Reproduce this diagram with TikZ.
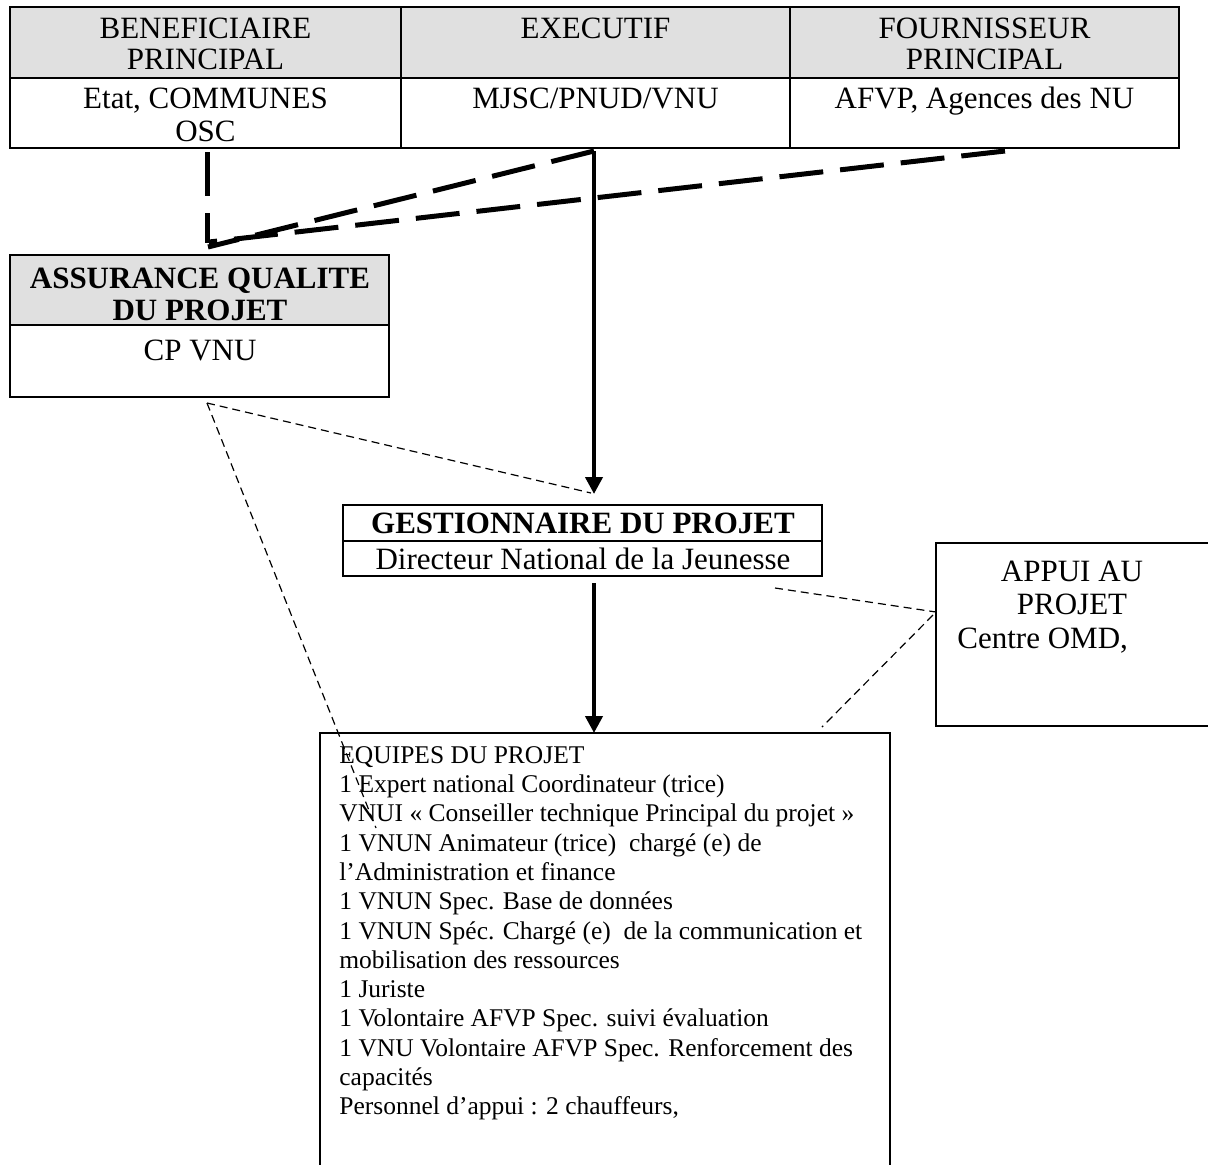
\documentclass[tikz,border=0pt]{standalone}
\usepackage{fontspec}
\setmainfont{Liberation Serif}
\usetikzlibrary{arrows.meta,fit}
\definecolor{hdr}{HTML}{E0E0E0}
\begin{document}
\begin{tikzpicture}[x=0.5pt,y=-0.5pt,
  frame/.style={draw, line width=1pt},
  txt/.style={anchor=base, inner sep=0pt, font=\fontsize{15.5}{16}\selectfont},
  btxt/.style={anchor=base, inner sep=0pt, font=\fontsize{15.5}{16}\selectfont\bfseries},
  eqtxt/.style={anchor=base west, inner sep=0pt, font=\fontsize{12.75}{14.7}\selectfont},
  bigdash/.style={line width=2.5pt, dash pattern=on 22pt off 8.5pt},
  bigarrow/.style={line width=2pt, -{Triangle[length=8.5pt,width=8.5pt]}},
  smalldash/.style={line width=0.6pt, dash pattern=on 4pt off 2.5pt}]
\useasboundingbox (0,0) rectangle (1208,1164);

% ---- top table
\fill[hdr] (10,7) rectangle (1179,78);
\node (tbl) [fit={(10,7)(1179,148)}, inner sep=0pt, frame] {};
\draw[line width=1pt] (10,78) -- (1179,78) (401,7) -- (401,148) (790,7) -- (790,148);
\node[txt] (h1a) at (205.5,38) {BENEFICIAIRE};
\node[txt] (h1b) at (205.5,69) {PRINCIPAL};
\node[txt] (h2a) at (595.5,38) {EXECUTIF};
\node[txt] (h3a) at (984.5,38) {FOURNISSEUR};
\node[txt] (h3b) at (984.5,69) {PRINCIPAL};
\node[txt] (b1a) at (205.5,108) {Etat, COMMUNES};
\node[txt] (b1b) at (205.5,141) {OSC};
\node[txt] (b2a) at (595.5,108) {MJSC/PNUD/VNU};
\node[txt] (b3a) at (984.5,108) {AFVP, Agences des NU};

% ---- assurance qualite
\fill[hdr] (10,255) rectangle (389,325);
\node (qa) [fit={(10,255)(389,397)}, inner sep=0pt, frame] {};
\draw[line width=1pt] (10,325) -- (389,325);
\node[btxt] (qa1) at (200,288) {ASSURANCE QUALITE};
\node[btxt] (qa2) at (200,320) {DU PROJET};
\node[txt] (qa3) at (200,360) {CP VNU};

% ---- gestionnaire
\node (gest) [fit={(343,505)(822,576)}, inner sep=0pt, frame] {};
\draw[line width=1pt] (343,541) -- (822,541);
\node[btxt] (g1) at (583,533) {GESTIONNAIRE DU PROJET};
\node[txt] (g2) at (583,569) {Directeur National de la Jeunesse};

% ---- appui
\node (appui) [fit={(936,543)(1208,726)}, inner sep=0pt] {};
\draw[line width=0.8pt] (1210,543) -- (936,543) -- (936,726) -- (1210,726);
\node[txt] (a1) at (1072,581) {APPUI AU};
\node[txt] (a2) at (1072,614) {PROJET};
\node[txt, anchor=base west] (a3) at (957,648) {Centre OMD,};

% ---- equipes
\node (equipes) [fit={(320,733)(890,1164)}, inner sep=0pt] {};
\draw[line width=0.8pt] (320,1168) -- (320,733) -- (890,733) -- (890,1168);
\foreach \t [count=\i from 0] in {
  {EQUIPES DU PROJET},
  {1 Expert national Coordinateur (trice)},
  {VNUI « Conseiller technique Principal du projet »},
  {1 VNUN Animateur (trice)\ \ chargé (e) de},
  {l’Administration et finance},
  {1 VNUN Spec. Base de données},
  {1 VNUN Spéc. Chargé (e)\ \ de la communication et},
  {mobilisation des ressources},
  {1 Juriste},
  {1 Volontaire AFVP Spec. suivi évaluation},
  {1 VNU Volontaire AFVP Spec. Renforcement des},
  {capacités},
  {Personnel d’appui : 2 chauffeurs,}}
  \node[eqtxt] (eq\i) at (339,763+29.33*\i) {\t};

% ---- connector end points
\coordinate (benB) at (207,152);
\coordinate (qaTopV) at (207,243);
\coordinate (exB) at (594,151);
\coordinate (qaTopA) at (208,247);
\coordinate (foB) at (1005,151);
\coordinate (qaTopB) at (209,242);
\coordinate (gestTip) at (594,494);
\coordinate (gestDot) at (591,493);
\coordinate (gestB) at (594,583);
\coordinate (eqTop) at (594,733);
\coordinate (qaBot) at (207,403);
\coordinate (eqIn) at (376,828);
\coordinate (gestR) at (775,588);
\coordinate (appL) at (936,612);
\coordinate (appL2) at (933,615);
\coordinate (eqTR) at (822,727);

% ---- connectors
\draw[bigdash] (benB) -- (qaTopV);
\draw[bigdash] (exB) -- (qaTopA);
\draw[bigdash] (foB) -- (qaTopB);
\draw[bigarrow] (exB) -- (gestTip);
\draw[bigarrow] (gestB) -- (eqTop);
\draw[smalldash] (qaBot) -- (gestDot);
\draw[smalldash] (qaBot) -- (eqIn);
\draw[smalldash] (gestR) -- (appL);
\draw[smalldash] (appL2) -- (eqTR);
\end{tikzpicture}
\end{document}
